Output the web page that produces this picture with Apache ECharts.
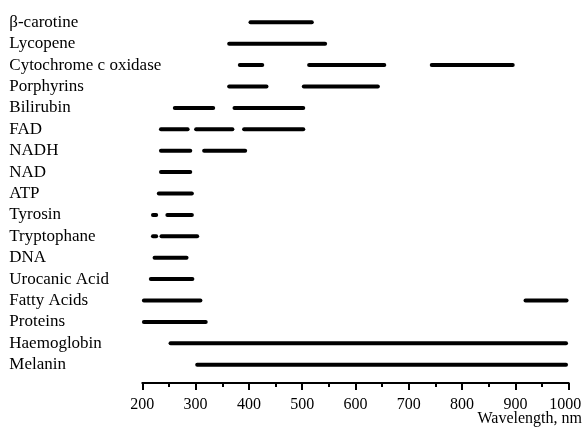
<!DOCTYPE html>
<html><head><meta charset="utf-8">
<script src="https://cdn.jsdelivr.net/npm/echarts@6/dist/echarts.min.js"></script>
<style>html,body{margin:0;padding:0;background:#fff}#c{width:584px;height:434px}</style>
</head><body><div id="c"></div>
<script>
const categories = ['β-carotine','Lycopene','Cytochrome c oxidase','Porphyrins','Bilirubin','FAD','NADH','NAD','ATP','Tyrosin','Tryptophane','DNA','Urocanic Acid','Fatty Acids','Proteins','Haemoglobin','Melanin'];
const ranges = [
  [[403,518]],
  [[363,543]],
  [[383,425],[513,654],[743,895]],
  [[363,433],[503,642]],
  [[261,333],[373,502]],
  [[235,285],[301,369],[391,502]],
  [[235,290],[316,393]],
  [[235,290]],
  [[231,293]],
  [[220,226],[247,293]],
  [[220,226],[236,303]],
  [[223,283]],
  [[216,294]],
  [[203,309],[919,996]],
  [[203,319]],
  [[253,995]],
  [[303,995]]
];
const xTicks = [200,300,400,500,600,700,800,900,1000];
const xName = 'Wavelength, nm';

const segData = [];
ranges.forEach((segs, i) => segs.forEach(s => segData.push([s[0], s[1], i])));

const FONT = 'Liberation Serif';
const xMax = xTicks[xTicks.length-1];
const chart = echarts.init(document.getElementById('c'), null, {renderer:'canvas'});
chart.setOption({
  animation:false,
  grid:{left:142.3, right:15.3, top:11.6, bottom:58.6, outerBoundsMode:'none', containLabel:false},
  xAxis:{type:'value', min:xTicks[0], max:xMax, interval:100, offset:7.6,
    axisLine:{show:true, lineStyle:{color:'#000', width:2}},
    axisTick:{show:true, length:7, lineStyle:{color:'#000', width:2}},
    minorTick:{show:true, splitNumber:2, length:4, lineStyle:{color:'#000', width:2}},
    splitLine:{show:false},
    axisLabel:{color:'#000', fontFamily:FONT, fontSize:16, margin:14, hideOverlap:false,
      formatter:function(v){ return v === xMax ? '{last|' + v + '}' : String(v); },
      rich:{last:{fontFamily:FONT, fontSize:16, color:'#000', padding:[0,7,0,0]}}
    }
  },
  yAxis:{type:'category', data:categories, inverse:true,
    axisLine:{show:false}, axisTick:{show:false}, splitLine:{show:false},
    axisLabel:{color:'#000', fontFamily:FONT, fontSize:17, align:'left', margin:133, interval:0, hideOverlap:false}
  },
  graphic:[{type:'text', right:2, top:411, style:{text:xName, font:'16px "Liberation Serif"', fill:'#000'}}],
  series:[{
    type:'custom',
    data:segData,
    encode:{x:[0,1], y:2},
    renderItem:function(params, api){
      const a = api.coord([api.value(0), api.value(2)]);
      const b = api.coord([api.value(1), api.value(2)]);
      return {type:'line', shape:{x1:a[0], y1:a[1], x2:b[0], y2:b[1]},
        style:{stroke:'#000', lineWidth:4, lineCap:'round'}};
    }
  }]
});
</script></body></html>
